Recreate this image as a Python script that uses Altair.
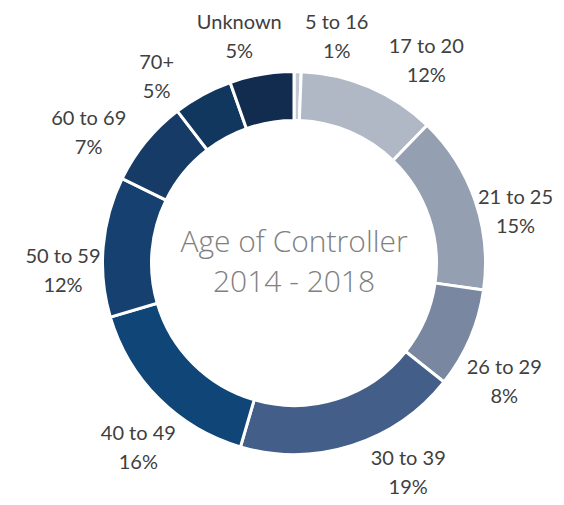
import math
import altair as alt
import pandas as pd

# ---- data ----
categories = ["5 to 16", "17 to 20", "21 to 25", "26 to 29", "30 to 39",
              "40 to 49", "50 to 59", "60 to 69", "70+", "Unknown"]
shares = [0.6, 11.6, 15.0, 8.4, 18.8, 15.9, 11.8, 7.3, 5.0, 5.4]
pct_labels = ["1%", "12%", "15%", "8%", "19%", "16%", "12%", "7%", "5%", "5%"]
colors = ["#c3c9d3", "#b0b8c5", "#959fb2", "#7a87a1", "#435e88",
          "#0f4577", "#15406f", "#153b66", "#12375f", "#122c50"]
title_lines = ["Age of Controller", "2014 - 2018"]

# ---- layout constants ----
W, H = 548, 489
CX, CY = 286, 255
OUTER, INNER = 191.5, 142.5
FS = 20
LH = 29
AXIS_GAP = 10                  # horizontal gap of top labels from the vertical axis
DOWN_BIAS = math.radians(7)    # labels sit slightly below their slice middle
LABEL_GAP = 18                 # minimum horizontal gap between neighbouring labels

# ---- automatic outside-label placement (clears the ring, avoids overlaps) ----
CHAR_W = {" ": 0.2, "t": 0.36, "o": 0.57, "%": 0.78, "+": 0.58, "U": 0.72,
          "n": 0.56, "k": 0.52, "w": 0.78}


def text_w(s):
    return sum(CHAR_W.get(ch, 0.58) for ch in s) * FS


R_CLEAR = OUTER + 1
B = 33  # vertical half-extent of a two-line label box, incl. gap


def place(theta, a):
    s, c = math.sin(theta), math.cos(theta)
    as_, ac = abs(s), abs(c)
    d = None
    if ac > 1e-6:
        dy_ = (R_CLEAR + B) / ac
        if dy_ * as_ <= a:
            d = dy_
    if d is None and as_ > 1e-6:
        dx_ = (R_CLEAR + a) / as_
        if dx_ * ac <= B:
            d = dx_
    if d is None:
        k = a * as_ + B * ac
        d = k + math.sqrt(max(0.0, k * k - a * a - B * B + R_CLEAR ** 2))
    X, Y = d * s, -d * c
    sx = 1 if s >= 0 else -1
    X = sx * max(abs(X), a + AXIS_GAP)
    ymin, ymax = 24 - CY, H - 24 - CY
    if Y < ymin or Y > ymax:
        Y = min(max(Y, ymin), ymax)
        X = sx * (a + math.sqrt(max(0.0, R_CLEAR ** 2 - max(0.0, abs(Y) - B) ** 2)))
    xmin, xmax = -CX + a + 2, W - CX - a - 2
    X = min(max(X, xmin), xmax)
    return X, Y


def overlaps(p, q):
    return abs(p[0] - q[0]) < p[2] + q[2] + LABEL_GAP and abs(p[1] - q[1]) < 2 * LH - 2


total = sum(shares)
n = len(shares)
mids, halfw = [], []
cum = 0.0
for cat, pct, v in zip(categories, pct_labels, shares):
    mids.append((cum + v / 2) / total * 2 * math.pi)
    cum += v
    halfw.append(max(text_w(cat), text_w(pct)) / 2 + 2)

angles = [m + DOWN_BIAS * math.sin(m) for m in mids]
step = math.radians(0.25)
eps = 1e-3
for _ in range(800):
    pos = [place(angles[i], halfw[i]) + (halfw[i],) for i in range(n)]
    moved = False
    for i in range(n - 1):
        j = i + 1
        if overlaps(pos[i], pos[j]):
            angles[i] -= step
            angles[j] += step
            moved = True
    for i in range(n):
        if mids[i] < math.pi:
            angles[i] = min(max(angles[i], eps), math.pi - eps)
        else:
            angles[i] = min(max(angles[i], math.pi + eps), 2 * math.pi - eps)
    if not moved:
        break

lab_r, lab_t = [], []
for i in range(n):
    X, Y = place(angles[i], halfw[i])
    lab_r.append(math.hypot(X, Y))
    lab_t.append(math.atan2(X, -Y) % (2 * math.pi))

df = pd.DataFrame({
    "category": categories,
    "share": shares,
    "pct": pct_labels,
    "order": list(range(n)),
    "lab_theta": lab_t,
    "lab_r": lab_r,
})
title_df = pd.DataFrame({"txt": ["\n".join(title_lines)]})

base = alt.Chart(df)

arcs = base.mark_arc(outerRadius=OUTER, innerRadius=INNER, stroke="white", strokeWidth=3).encode(
    theta=alt.Theta("share:Q", stack=True),
    order=alt.Order("order:Q"),
    color=alt.Color("category:N", scale=alt.Scale(domain=categories, range=colors), legend=None),
    x=alt.value(CX),
    y=alt.value(CY),
)

labels = base.transform_calculate(
    txt="datum.category + '\\n' + datum.pct"
).mark_text(
    align="center", baseline="middle", lineBreak="\n", lineHeight=LH, dy=-LH / 2,
    font="Lato", fontSize=FS, color="#404040",
).encode(
    theta=alt.Theta("lab_theta:Q", scale=alt.Scale(domain=[0, 2 * math.pi], range=[0, 2 * math.pi])),
    radius=alt.Radius("lab_r:Q", scale=None),
    text=alt.Text("txt:N"),
    x=alt.value(CX),
    y=alt.value(CY),
)

center_text = alt.Chart(title_df).mark_text(
    align="center", baseline="middle", lineBreak="\n", lineHeight=40, dy=-20,
    font="Open Sans", fontWeight=300, fontSize=30, color="#808080",
).encode(text="txt:N", x=alt.value(CX), y=alt.value(CY))

chart = alt.layer(arcs, labels, center_text).resolve_scale(
    theta="independent"
).properties(
    width=W, height=H, padding=0, autosize=alt.AutoSizeParams(type="none")
).configure_view(stroke=None)

chart.save("out.html", embed_options={"renderer": "svg", "actions": False})
